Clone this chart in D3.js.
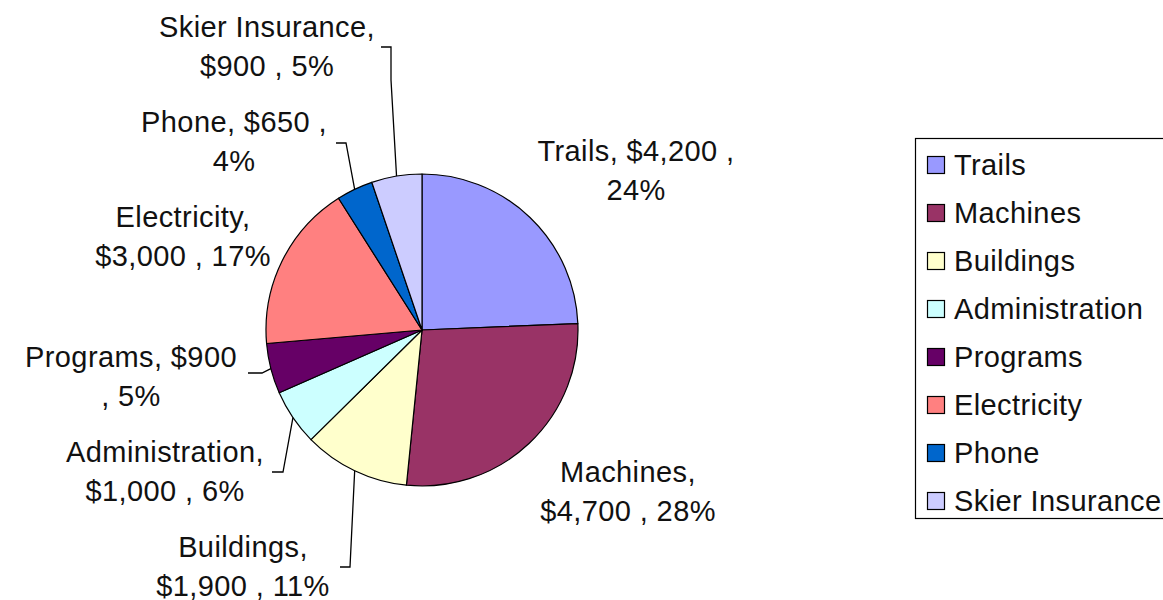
<!DOCTYPE html>
<html>
<head>
<meta charset="utf-8">
<script src="https://cdn.jsdelivr.net/npm/d3@7"></script>
<style>
  body { margin: 0; background: #fff; }
  text { font-family: "Liberation Sans", Arial, sans-serif; fill: #111; letter-spacing: 0.4px; }
</style>
</head>
<body>
<div id="chart"></div>
<script>
// data
const categories = ["Trails", "Machines", "Buildings", "Administration", "Programs", "Electricity", "Phone", "Skier Insurance"];
const amounts = [4200, 4700, 1900, 1000, 900, 3000, 650, 900];
const colors = ["#9999FF", "#993366", "#FFFFCC", "#CCFFFF", "#660066", "#FF8080", "#0066CC", "#CCCCFF"];
const labelLines = [
    ["Trails, $4,200 ,", "24%"],
    ["Machines,", "$4,700 , 28%"],
    ["Buildings,", "$1,900 , 11%"],
    ["Administration,", "$1,000 , 6%"],
    ["Programs, $900", ", 5%"],
    ["Electricity,", "$3,000 , 17%"],
    ["Phone, $650 ,", "4%"],
    ["Skier Insurance,", "$900 , 5%"]
];

// layout of the data labels (centre of first line) and leader brackets
const labelAt = {
    "Trails": [636, 151],
    "Machines": [628, 472],
    "Buildings": [243, 547],
    "Administration": [165, 452],
    "Programs": [131, 357],
    "Electricity": [183, 217],
    "Phone": [234, 122],
    "Skier Insurance": [267, 27]
};
// [start x, y, bend x, optional drop y]
const leaderAt = {
    "Skier Insurance": [381, 47, 391, 80],
    "Phone": [336, 143, 346],
    "Programs": [248, 373, 262],
    "Administration": [272, 472, 283],
    "Buildings": [340, 567, 350]
};

function draw() {
    d3.select("#chart").selectAll("*").remove();

    let width = 1163, height = 600;
    let cx = 422, cy = 330, radius = 156;
    let lineGap = 39;

    let svg = d3.select("#chart")
        .append("svg")
        .attr("width", width)
        .attr("height", height);

    let data = categories.map((c, i) => ({ name: c, value: amounts[i], color: colors[i], lines: labelLines[i] }));

    let pie = d3.pie().sort(null).value(d => d.value);
    let arc = d3.arc().innerRadius(0).outerRadius(radius);
    let edge = d3.arc().innerRadius(radius).outerRadius(radius);

    let arcs = pie(data);

    let g = svg.append("g").attr("transform", `translate(${cx},${cy})`);

    g.selectAll("path.slice")
        .data(arcs)
        .enter().append("path")
        .attr("class", "slice")
        .attr("d", arc)
        .attr("fill", d => d.data.color)
        .attr("stroke", "#000")
        .attr("stroke-width", 1.2)
        .attr("stroke-linejoin", "round");

    // leader lines
    arcs.forEach(d => {
        let l = leaderAt[d.data.name];
        if (!l) return;
        let p = edge.centroid(d);
        let pts = [[l[0], l[1]], [l[2], l[1]]];
        if (l[3]) pts.push([l[2], l[3]]);
        pts.push([cx + p[0], cy + p[1]]);
        svg.append("polyline")
            .attr("points", pts.map(q => q.join(",")).join(" "))
            .attr("fill", "none")
            .attr("stroke", "#000")
            .attr("stroke-width", 1.3);
    });

    // data labels
    arcs.forEach(d => {
        let pos = labelAt[d.data.name];
        let t = svg.append("text")
            .attr("text-anchor", "middle")
            .style("font-size", "29px");
        d.data.lines.forEach((line, i) => {
            t.append("tspan")
                .attr("x", pos[0])
                .attr("y", pos[1] + i * lineGap)
                .attr("dy", "0.36em")
                .text(line);
        });
    });

    // legend
    let legend = svg.append("g");
    legend.append("rect")
        .attr("x", 915.5)
        .attr("y", 138.5)
        .attr("width", 300)
        .attr("height", 380)
        .attr("fill", "#fff")
        .attr("stroke", "#000")
        .attr("stroke-width", 1.2);

    let rowY = d3.scalePoint().domain(categories).range([165, 501]);

    let rows = legend.selectAll("g.row")
        .data(data)
        .enter().append("g")
        .attr("class", "row")
        .attr("transform", d => `translate(0,${rowY(d.name)})`);

    rows.append("rect")
        .attr("x", 927.5)
        .attr("y", -8.5)
        .attr("width", 17)
        .attr("height", 17)
        .attr("fill", d => d.color)
        .attr("stroke", "#000")
        .attr("stroke-width", 1.2);

    rows.append("text")
        .attr("x", 954)
        .attr("dy", "0.36em")
        .style("font-size", "29px")
        .text(d => d.name);
}

draw();
</script>
</body>
</html>
